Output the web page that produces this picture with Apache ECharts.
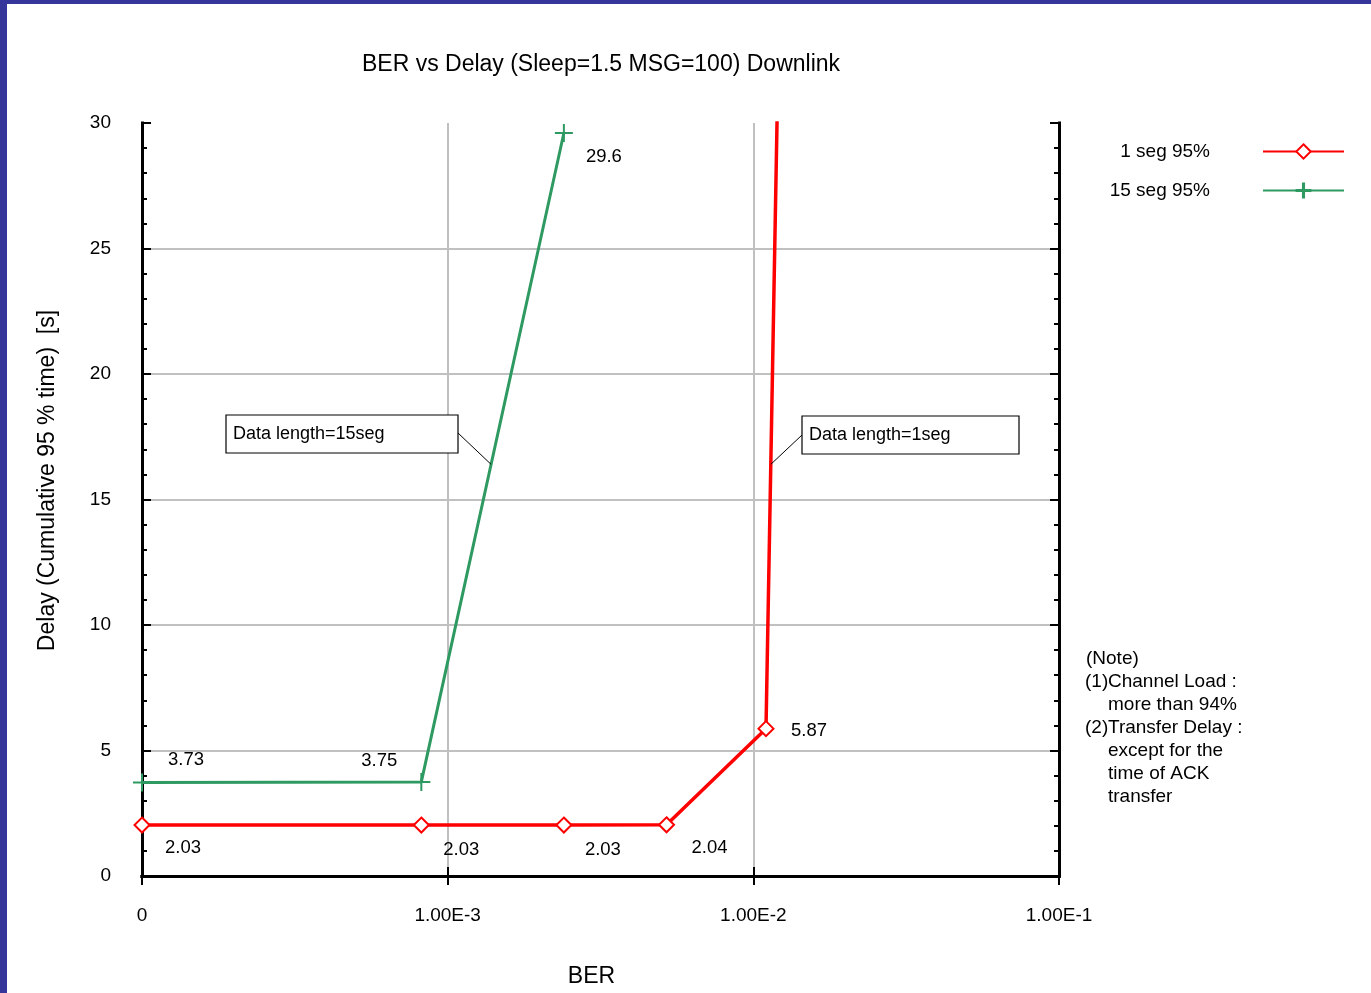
<!DOCTYPE html>
<html>
<head>
<meta charset="utf-8">
<script src="https://cdn.jsdelivr.net/npm/echarts@6/dist/echarts.min.js"></script>
<style>
  html, body { margin: 0; padding: 0; background: #fff; overflow: hidden; }
  #chart { width: 1371px; height: 993px; }
</style>
</head>
<body>
<div id="chart"></div>
<script>
// Measured delay (95th percentile of cumulative time) against bit error rate
const seriesNames = ['1 seg 95%', '15 seg 95%'];
const berOneSeg = [1e-4, 8.2e-4, 2.4e-3, 5.2e-3, 1.1e-2, 1.5e-2];
const delayOneSeg = [2.03, 2.03, 2.03, 2.04, 5.87, 96];
const berFifteenSeg = [1e-4, 8.2e-4, 2.4e-3];
const delayFifteenSeg = [3.73, 3.75, 29.6];

const chartTitle = 'BER vs Delay (Sleep=1.5 MSG=100) Downlink';
const xName = 'BER';
const yName = 'Delay (Cumulative 95 % time)  [s]';
const calloutFifteen = 'Data length=15seg';
const calloutOne = 'Data length=1seg';
const noteHeading = '(Note)';
const noteMarks = ['(1)', '', '(2)', '', '', ''];
const noteLines = ['Channel Load :', 'more than 94%', 'Transfer Delay :', 'except for the', 'time of ACK', 'transfer'];

// value-label placement next to each marker (pixels from the marker centre)
const oneSegLabelShift = [[41, 23], [40, 25], [39, 25], [43, 23], [43, 2], [0, 0]];
const fifteenSegLabelShift = [[44, -22], [-42, -21], [40, 24]];

const FONT = '"Liberation Sans", Arial, sans-serif';
const RED = '#ff0000';
const GREEN = '#2e9a62';

function buildPoints(xs, ys, shifts) {
  return xs.map((x, i) => ({
    value: [x, ys[i]],
    label: { offset: shifts[i] }
  }));
}

const berLabel = v => (v < 2e-4 ? '0' : Number(v).toExponential(2).toUpperCase());

const chart = echarts.init(document.getElementById('chart'), null, { renderer: 'canvas' });

const axisLineStyle = { color: '#000', width: 3, cap: 'square' };
const tickStyle = { color: '#000', width: 2 };

chart.setOption({
  backgroundColor: '#fff',
  animation: false,
  title: {
    text: chartTitle,
    left: 596,
    textAlign: 'center',
    top: 48,
    textStyle: { fontFamily: FONT, fontSize: 23, fontWeight: 'normal', color: '#000' }
  },
  legend: {
    data: [
      { name: seriesNames[0] },
      { name: seriesNames[1], itemStyle: { borderColor: GREEN, borderWidth: 1.5 } }
    ],
    orient: 'vertical',
    right: 21,
    top: 137,
    align: 'right',
    itemWidth: 81,
    itemHeight: 18,
    itemGap: 20,
    selectedMode: false,
    textStyle: { fontFamily: FONT, fontSize: 19, color: '#000', padding: [0, 48, 0, 0] }
  },
  grid: { left: 142, top: 123, width: 917, height: 754, containLabel: false },
  xAxis: [
    {
      type: 'log', logBase: 10, min: 1e-4, max: 1e-1, position: 'bottom',
      name: xName, nameLocation: 'middle', nameGap: 89,
      nameTextStyle: { fontFamily: FONT, fontSize: 23, color: '#000', padding: [0, 18, 0, 0] },
      axisLine: { lineStyle: axisLineStyle },
      axisTick: { inside: true, length: 9, lineStyle: tickStyle },
      minorTick: { show: false },
      axisLabel: { formatter: berLabel, fontFamily: FONT, fontSize: 19, color: '#000', margin: 30 },
      splitLine: { show: true, showMinLine: false, showMaxLine: false, lineStyle: { color: '#c0c0c0', width: 2 } }
    },
    {
      type: 'log', logBase: 10, min: 1e-4, max: 1e-1, position: 'top',
      axisLine: { lineStyle: axisLineStyle },
      axisTick: { inside: true, length: 9, lineStyle: tickStyle },
      minorTick: { show: false },
      axisLabel: { show: false },
      splitLine: { show: false }
    }
  ],
  yAxis: [
    {
      type: 'value', min: 0, max: 30, interval: 5, position: 'left',
      name: yName, nameLocation: 'middle', nameGap: 83,
      nameTextStyle: { fontFamily: FONT, fontSize: 23, color: '#000', padding: [0, 0, 0, 38] },
      axisLine: { show: true, lineStyle: axisLineStyle },
      axisTick: { show: true, inside: true, length: 9, lineStyle: tickStyle },
      minorTick: { show: true, splitNumber: 5, length: 5, lineStyle: tickStyle },
      axisLabel: { fontFamily: FONT, fontSize: 19, color: '#000', margin: 31 },
      splitLine: { show: true, showMinLine: false, showMaxLine: false, lineStyle: { color: '#c0c0c0', width: 2 } }
    },
    {
      type: 'value', min: 0, max: 30, interval: 5, position: 'right',
      axisLine: { show: true, lineStyle: axisLineStyle },
      axisTick: { show: true, inside: true, length: 9, lineStyle: tickStyle },
      minorTick: { show: true, splitNumber: 5, length: 5, lineStyle: tickStyle },
      axisLabel: { show: false },
      splitLine: { show: false }
    }
  ],
  series: [
    {
      name: seriesNames[0],
      type: 'line',
      xAxisIndex: 0, yAxisIndex: 0,
      data: buildPoints(berOneSeg, delayOneSeg, oneSegLabelShift),
      clip: true,
      symbol: 'emptyDiamond',
      symbolSize: 15,
      showAllSymbol: true,
      lineStyle: { color: RED, width: 3.5 },
      itemStyle: { color: RED, borderColor: RED, borderWidth: 2 },
      label: {
        show: true, position: 'inside',
        formatter: p => String(p.value[1]),
        fontFamily: FONT, fontSize: 18.5, color: '#000'
      },
      emphasis: { disabled: true },
      z: 3
    },
    {
      name: seriesNames[1],
      type: 'line',
      xAxisIndex: 0, yAxisIndex: 0,
      data: buildPoints(berFifteenSeg, delayFifteenSeg, fifteenSegLabelShift),
      clip: true,
      symbol: 'path://M0,8H18V10H0Z M8,0H10V18H8Z',
      symbolSize: 18,
      symbolKeepAspect: true,
      showAllSymbol: true,
      lineStyle: { color: GREEN, width: 3 },
      itemStyle: { color: GREEN },
      label: {
        show: true, position: 'inside',
        formatter: p => String(p.value[1]),
        fontFamily: FONT, fontSize: 18.5, color: '#000'
      },
      emphasis: { disabled: true },
      z: 3
    }
  ]
});

// Point on a series' polyline (segment i -> i+1) where it crosses a given delay
function pointAtDelay(xs, ys, i, delay) {
  const a = chart.convertToPixel({ gridIndex: 0 }, [xs[i], ys[i]]);
  const b = chart.convertToPixel({ gridIndex: 0 }, [xs[i + 1], ys[i + 1]]);
  const yPix = chart.convertToPixel({ yAxisIndex: 0 }, delay);
  const t = (yPix - a[1]) / (b[1] - a[1]);
  return [a[0] + t * (b[0] - a[0]), yPix];
}

const tipFifteen = pointAtDelay(berFifteenSeg, delayFifteenSeg, 1, 16.4);
const tipOne = pointAtDelay(berOneSeg, delayOneSeg, 4, 16.4);

function callout(x, y, w, h, text) {
  return {
    type: 'group', x: x, y: y, z: 20,
    children: [
      { type: 'rect', shape: { x: 0, y: 0, width: w, height: h },
        style: { fill: '#fff', stroke: '#000', lineWidth: 1.2 } },
      { type: 'text', x: 7, y: h / 2,
        style: { text: text, font: '18px ' + FONT, fill: '#000', verticalAlign: 'middle', align: 'left' } }
    ]
  };
}

const noteGraphics = [
  { type: 'text', x: 1086, y: 659, z: 20,
    style: { text: noteHeading, font: '19px ' + FONT, fill: '#000', verticalAlign: 'middle' } }
];
noteLines.forEach((line, i) => {
  const y = 682 + i * 23;
  if (noteMarks[i]) {
    noteGraphics.push({ type: 'text', x: 1085, y: y, z: 20,
      style: { text: noteMarks[i], font: '19px ' + FONT, fill: '#000', verticalAlign: 'middle' } });
  }
  noteGraphics.push({ type: 'text', x: 1108, y: y, z: 20,
    style: { text: line, font: '19px ' + FONT, fill: '#000', verticalAlign: 'middle' } });
});

chart.setOption({
  graphic: [
    // page frame bands
    { type: 'rect', shape: { x: 0, y: 0, width: 1371, height: 4 }, style: { fill: '#35359b' }, z: 30 },
    { type: 'rect', shape: { x: 0, y: 0, width: 7, height: 993 }, style: { fill: '#35359b' }, z: 30 },
    // callout leaders
    { type: 'line', z: 19, shape: { x1: 458, y1: 433, x2: tipFifteen[0], y2: tipFifteen[1] },
      style: { stroke: '#000', lineWidth: 1 } },
    { type: 'line', z: 19, shape: { x1: 802, y1: 435, x2: tipOne[0], y2: tipOne[1] },
      style: { stroke: '#000', lineWidth: 1 } },
    callout(226, 415, 232, 38, calloutFifteen),
    callout(802, 416, 217, 38, calloutOne)
  ].concat(noteGraphics)
});
</script>
</body>
</html>
